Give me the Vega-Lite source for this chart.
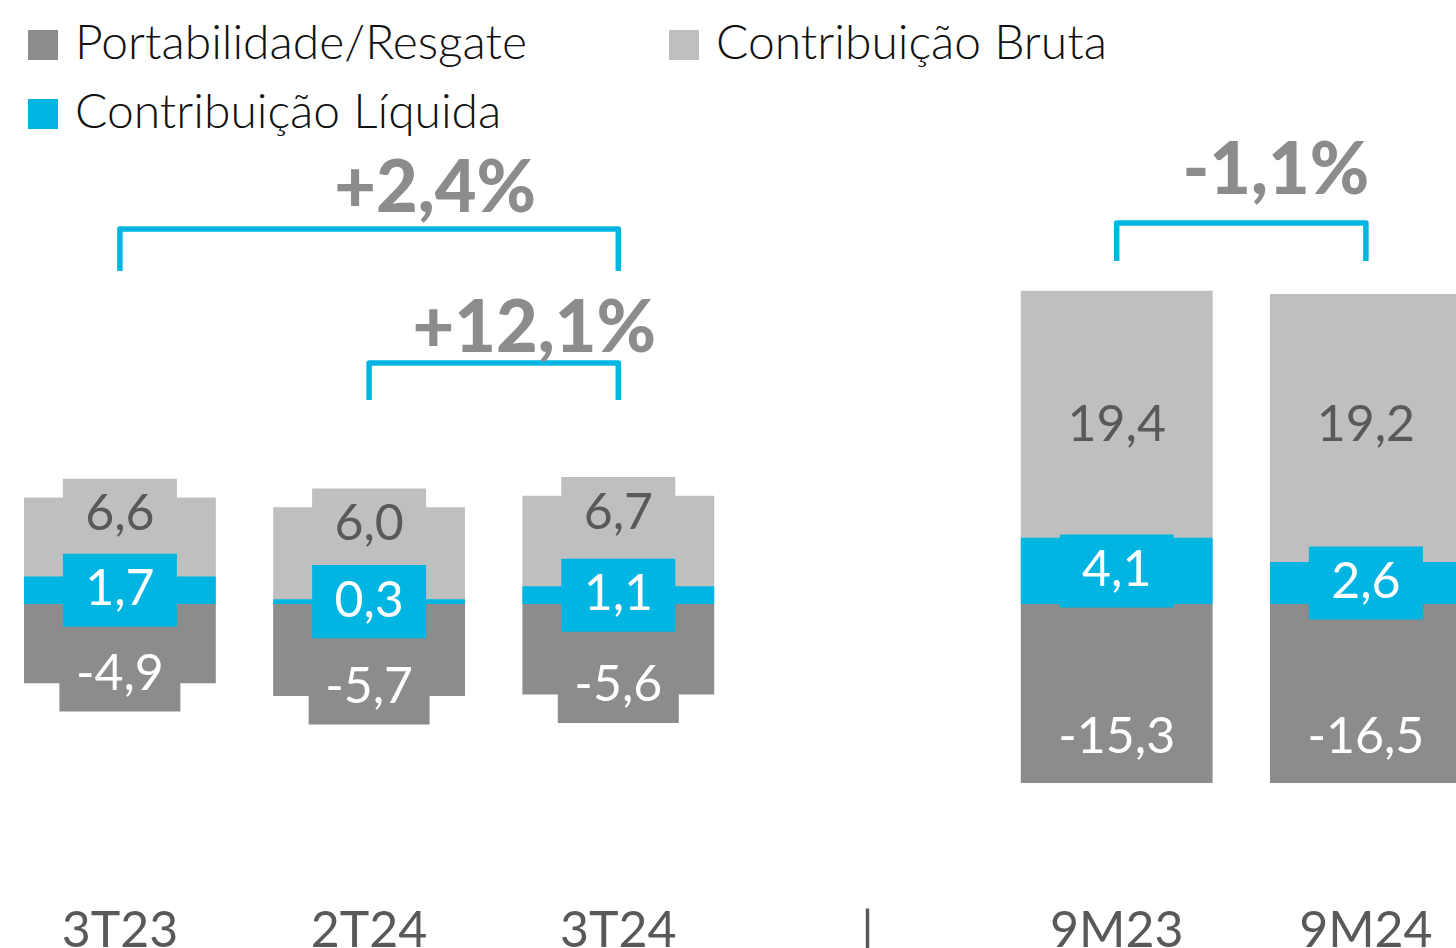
{
  "$schema": "https://vega.github.io/schema/vega-lite/v6.json",
  "width": 1456,
  "height": 783,
  "autosize": {"type": "none"},
  "padding": {"left": 0, "top": 0, "right": 0, "bottom": 165},
  "background": "white",
  "config": {
    "view": {"stroke": null},
    "font": "Lato",
    "locale": {"number": {"decimal": ",", "thousands": ".", "grouping": [3], "currency": ["R$", ""], "minus": "-"}}
  },
  "datasets": {
    "fluxo": [
      {"periodo": "3T23", "serie": "Contribuição Bruta", "valor": 6.6},
      {"periodo": "2T24", "serie": "Contribuição Bruta", "valor": 6.0},
      {"periodo": "3T24", "serie": "Contribuição Bruta", "valor": 6.7},
      {"periodo": "9M23", "serie": "Contribuição Bruta", "valor": 19.4},
      {"periodo": "9M24", "serie": "Contribuição Bruta", "valor": 19.2},
      {"periodo": "3T23", "serie": "Portabilidade/Resgate", "valor": -4.9},
      {"periodo": "2T24", "serie": "Portabilidade/Resgate", "valor": -5.7},
      {"periodo": "3T24", "serie": "Portabilidade/Resgate", "valor": -5.6},
      {"periodo": "9M23", "serie": "Portabilidade/Resgate", "valor": -15.3},
      {"periodo": "9M24", "serie": "Portabilidade/Resgate", "valor": -16.5},
      {"periodo": "3T23", "serie": "Contribuição Líquida", "valor": 1.7},
      {"periodo": "2T24", "serie": "Contribuição Líquida", "valor": 0.3},
      {"periodo": "3T24", "serie": "Contribuição Líquida", "valor": 1.1},
      {"periodo": "9M23", "serie": "Contribuição Líquida", "valor": 4.1},
      {"periodo": "9M24", "serie": "Contribuição Líquida", "valor": 2.6}
    ],
    "chaves": [
      {"chave": "a", "periodo": "3T23", "y": 20.62, "ordem": 1},
      {"chave": "a", "periodo": "3T23", "y": 23.22, "ordem": 2},
      {"chave": "a", "periodo": "3T24", "y": 23.22, "ordem": 3},
      {"chave": "a", "periodo": "3T24", "y": 20.62, "ordem": 4},
      {"chave": "b", "periodo": "2T24", "y": 12.63, "ordem": 1},
      {"chave": "b", "periodo": "2T24", "y": 14.92, "ordem": 2},
      {"chave": "b", "periodo": "3T24", "y": 14.92, "ordem": 3},
      {"chave": "b", "periodo": "3T24", "y": 12.63, "ordem": 4},
      {"chave": "c", "periodo": "9M23", "y": 21.24, "ordem": 1},
      {"chave": "c", "periodo": "9M23", "y": 23.59, "ordem": 2},
      {"chave": "c", "periodo": "9M24", "y": 23.59, "ordem": 3},
      {"chave": "c", "periodo": "9M24", "y": 21.24, "ordem": 4}
    ]
  },
  "encoding": {
    "x": {
      "field": "periodo",
      "type": "nominal",
      "scale": {
        "domain": ["3T23", "2T24", "3T24", "|", "9M23", "9M24"],
        "range": [0, 1485.8],
        "paddingInner": 0.2303,
        "paddingOuter": 0.0963
      },
      "axis": {
        "title": null,
        "domain": false,
        "ticks": false,
        "tickSize": 0,
        "grid": false,
        "labelAngle": 0,
        "labelFont": "Lato",
        "labelFontSize": 50,
        "labelColor": "#595959",
        "labelPadding": 123
      }
    }
  },
  "layer": [
    {
      "data": {"name": "fluxo"},
      "mark": {"type": "bar", "opacity": 1},
      "encoding": {
        "y": {"field": "valor", "type": "quantitative", "stack": null, "scale": {"domain": [-11.08, 37.4], "nice": false, "zero": false, "clamp": true}, "axis": null},
        "y2": {"datum": 0},
        "color": {
          "field": "serie",
          "type": "nominal",
          "scale": {
            "domain": ["Portabilidade/Resgate", "Contribuição Bruta", "Contribuição Líquida"],
            "range": ["#8c8c8c", "#bfbfbf", "#00b5e2"]
          },
          "legend": {
            "orient": "none",
            "legendX": 19,
            "legendY": 21,
            "direction": "horizontal",
            "columns": 2,
            "title": null,
            "padding": 0,
            "symbolType": "square",
            "symbolSize": 900,
            "symbolStrokeWidth": 0,
            "symbolOpacity": 1,
            "labelFont": "Lato",
            "labelFontSize": 48,
            "labelFontWeight": 300,
            "labelColor": "#111111",
            "labelOffset": 8,
            "labelLimit": 1000,
            "rowPadding": 21,
            "columnPadding": 133
          }
        }
      }
    },
    {
      "data": {"name": "fluxo"},
      "transform": [
        {"filter": "datum.serie === 'Contribuição Bruta'"},
        {"calculate": "min(datum.valor - 1.1, 11)", "as": "pos"}
      ],
      "mark": {"type": "point", "shape": "M-1,-0.6404L1,-0.6404L1,0.6404L-1,0.6404Z", "size": 12996, "filled": true, "color": "#bfbfbf", "opacity": 1, "strokeWidth": 0},
      "encoding": {
        "y": {"field": "pos", "type": "quantitative", "scale": {"domain": [-11.08, 37.4], "nice": false, "zero": false, "clamp": true}, "axis": null}
      }
    },
    {
      "data": {"name": "fluxo"},
      "transform": [
        {"filter": "datum.serie === 'Portabilidade/Resgate'"},
        {"calculate": "max(datum.valor + 0.5, -8.3)", "as": "pos"}
      ],
      "mark": {"type": "point", "shape": "M-1,-0.6033L1,-0.6033L1,0.6033L-1,0.6033Z", "size": 14641, "filled": true, "color": "#8c8c8c", "opacity": 1, "strokeWidth": 0},
      "encoding": {
        "y": {"field": "pos", "type": "quantitative", "scale": {"domain": [-11.08, 37.4], "nice": false, "zero": false, "clamp": true}, "axis": null}
      }
    },
    {
      "data": {"name": "fluxo"},
      "transform": [
        {"filter": "datum.serie === 'Contribuição Líquida'"},
        {"calculate": "datum.valor / 2", "as": "pos"}
      ],
      "mark": {"type": "point", "shape": "M-1,-0.6404L1,-0.6404L1,0.6404L-1,0.6404Z", "size": 12996, "filled": true, "color": "#00b5e2", "opacity": 1, "strokeWidth": 0},
      "encoding": {
        "y": {"field": "pos", "type": "quantitative", "scale": {"domain": [-11.08, 37.4], "nice": false, "zero": false, "clamp": true}, "axis": null}
      }
    },
    {
      "data": {"name": "fluxo"},
      "transform": [
        {"filter": "datum.serie === 'Contribuição Bruta'"},
        {"calculate": "min(datum.valor - 1.1, 11)", "as": "pos"}
      ],
      "mark": {"type": "text", "font": "Lato", "fontSize": 50, "color": "#595959", "baseline": "middle", "align": "center"},
      "encoding": {
        "y": {"field": "pos", "type": "quantitative", "scale": {"domain": [-11.08, 37.4], "nice": false, "zero": false, "clamp": true}, "axis": null},
        "text": {"field": "valor", "type": "quantitative", "format": ".1f"}
      }
    },
    {
      "data": {"name": "fluxo"},
      "transform": [
        {"filter": "datum.serie === 'Portabilidade/Resgate'"},
        {"calculate": "max(datum.valor + 0.5, -8.3)", "as": "pos"}
      ],
      "mark": {"type": "text", "font": "Lato", "fontSize": 50, "color": "#ffffff", "baseline": "middle", "align": "center"},
      "encoding": {
        "y": {"field": "pos", "type": "quantitative", "scale": {"domain": [-11.08, 37.4], "nice": false, "zero": false, "clamp": true}, "axis": null},
        "text": {"field": "valor", "type": "quantitative", "format": ".1f"}
      }
    },
    {
      "data": {"name": "fluxo"},
      "transform": [
        {"filter": "datum.serie === 'Contribuição Líquida'"},
        {"calculate": "datum.valor / 2", "as": "pos"}
      ],
      "mark": {"type": "text", "font": "Lato", "fontSize": 50, "color": "#ffffff", "baseline": "middle", "align": "center"},
      "encoding": {
        "y": {"field": "pos", "type": "quantitative", "scale": {"domain": [-11.08, 37.4], "nice": false, "zero": false, "clamp": true}, "axis": null},
        "text": {"field": "valor", "type": "quantitative", "format": ".1f"}
      }
    },
    {
      "data": {"name": "chaves"},
      "mark": {"type": "line", "color": "#00b5e2", "strokeWidth": 5.5, "strokeJoin": "round", "strokeCap": "butt"},
      "encoding": {
        "y": {"field": "y", "type": "quantitative", "scale": {"domain": [-11.08, 37.4], "nice": false, "zero": false, "clamp": true}, "axis": null},
        "detail": {"field": "chave", "type": "nominal"},
        "order": {"field": "ordem", "type": "quantitative"}
      }
    },
    {
      "data": {"values": [{"periodo": "2T24", "y": 24.27, "txt": "+2,4%"}]},
      "mark": {"type": "text", "font": "Lato", "fontSize": 72, "fontWeight": 900, "color": "#8c8c8c", "baseline": "alphabetic", "align": "center", "dx": 66},
      "encoding": {
        "y": {"field": "y", "type": "quantitative", "scale": {"domain": [-11.08, 37.4], "nice": false, "zero": false, "clamp": true}, "axis": null},
        "text": {"field": "txt", "type": "nominal"}
      }
    },
    {
      "data": {"values": [{"periodo": "3T24", "y": 15.6, "txt": "+12,1%"}]},
      "mark": {"type": "text", "font": "Lato", "fontSize": 72, "fontWeight": 900, "color": "#8c8c8c", "baseline": "alphabetic", "align": "center", "dx": -84},
      "encoding": {
        "y": {"field": "y", "type": "quantitative", "scale": {"domain": [-11.08, 37.4], "nice": false, "zero": false, "clamp": true}, "axis": null},
        "text": {"field": "txt", "type": "nominal"}
      }
    },
    {
      "data": {"values": [{"periodo": "9M24", "y": 25.39, "txt": "-1,1%"}]},
      "mark": {"type": "text", "font": "Lato", "fontSize": 72, "fontWeight": 900, "color": "#8c8c8c", "baseline": "alphabetic", "align": "center", "dx": -90},
      "encoding": {
        "y": {"field": "y", "type": "quantitative", "scale": {"domain": [-11.08, 37.4], "nice": false, "zero": false, "clamp": true}, "axis": null},
        "text": {"field": "txt", "type": "nominal"}
      }
    }
  ]
}
